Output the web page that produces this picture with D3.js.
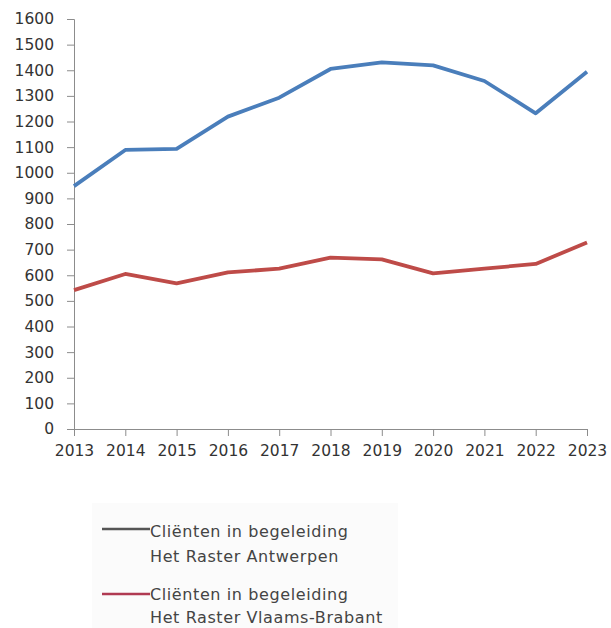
<!DOCTYPE html>
<html><head><meta charset="utf-8">
<script src="https://cdn.jsdelivr.net/npm/d3@7"></script>
<style>body{margin:0;background:#fff}svg{display:block}</style>
</head><body>
<svg id="c" width="611" height="628"></svg>
<script>
const years = [2013,2014,2015,2016,2017,2018,2019,2020,2021,2022,2023];
const antwerpen = [948,1089,1093,1219,1293,1405,1431,1419,1358,1232,1394];
const vlaamsBrabant = [542,605,568,611,626,669,662,607,626,644,728];
const yTicks = [0,100,200,300,400,500,600,700,800,900,1000,1100,1200,1300,1400,1500,1600];
const legendLabels = [["Cliënten in begeleiding","Het Raster Antwerpen"],["Cliënten in begeleiding","Het Raster Vlaams-Brabant"]];
const seriesColors = ["#4a7ebb","#be4b48"];
const legendColors = ["#555555","#b03a52"];

const svg = d3.select("#c");
const font = "DejaVu Sans, sans-serif";
const x = d3.scalePoint().domain(years).range([74,587]);
const y = d3.scaleLinear().domain([0,1600]).range([429,19]);

const ya = svg.append("g").attr("transform","translate(74,0)")
  .call(d3.axisLeft(y).tickValues(yTicks).tickSize(7).tickPadding(13).tickFormat(d3.format("d")));
const xa = svg.append("g").attr("transform","translate(0,429)")
  .call(d3.axisBottom(x).tickSize(7).tickPadding(9).tickFormat(d3.format("d")));
[ya,xa].forEach(a=>{
  a.selectAll("path,line").attr("stroke","#8c8c8c").attr("stroke-width",1);
  a.selectAll("text").attr("fill","#333").style("font-family",font).style("font-size","15.5px");
});

const line = d3.line().x((d,i)=>x(years[i])).y(d=>y(d));
[antwerpen,vlaamsBrabant].forEach((s,k)=>{
  svg.append("path").datum(s).attr("d",line).attr("fill","none")
    .attr("stroke",seriesColors[k]).attr("stroke-width",3.8).attr("stroke-linejoin","round");
});

// legend
svg.append("rect").attr("x",92).attr("y",503).attr("width",306).attr("height",125).attr("fill","#fbfbfb");
const lg = svg.append("g");
const rows = [529,594];
const baselines = [[537,562],[600,623]];
legendLabels.forEach((lbl,k)=>{
  lg.append("line").attr("x1",102).attr("x2",150).attr("y1",rows[k]).attr("y2",rows[k])
    .attr("stroke",legendColors[k]).attr("stroke-width",2.5);
  lbl.forEach((t,j)=>{
    lg.append("text").attr("x",150).attr("y",baselines[k][j]).text(t)
      .attr("fill","#444").style("font-family",font).style("font-size","16px")
      .style("letter-spacing","0.6px");
  });
});
</script>
</body></html>
